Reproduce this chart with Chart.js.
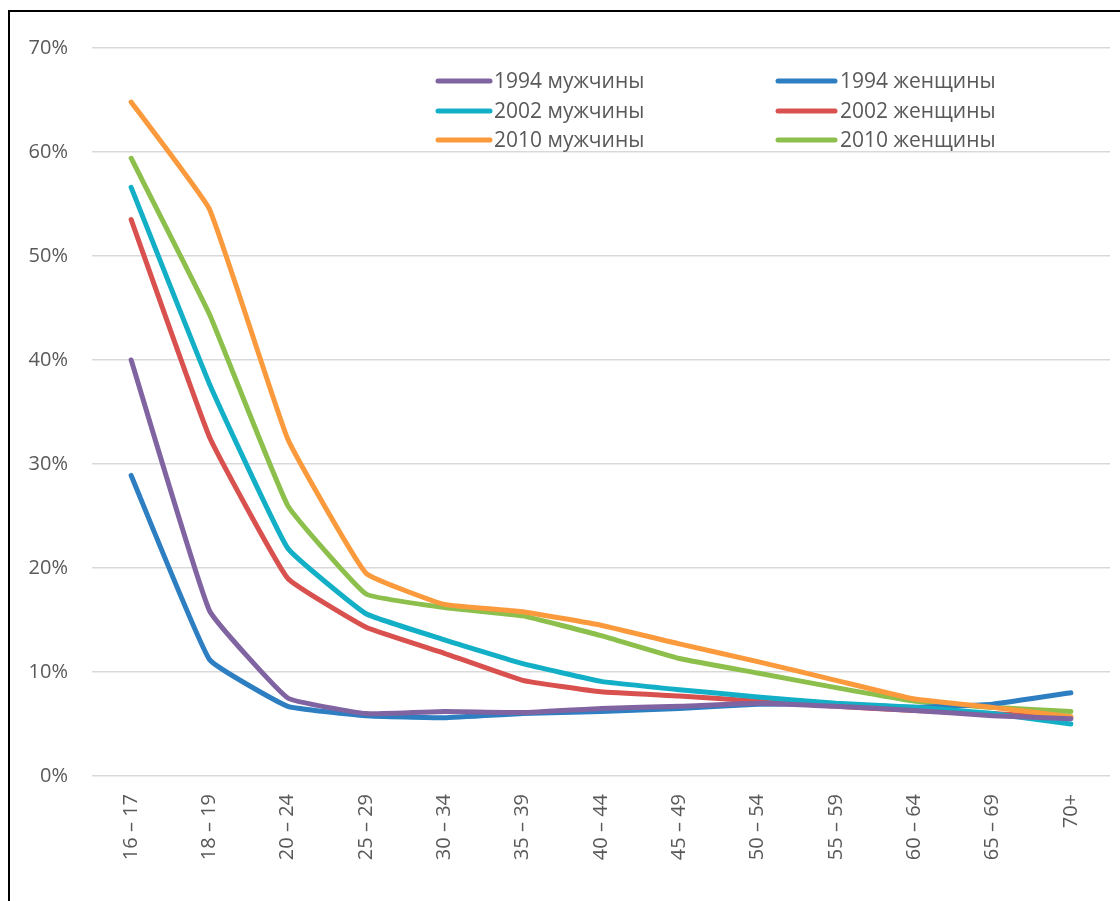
<!DOCTYPE html>
<html>
<head>
<meta charset="utf-8">
<script src="https://cdn.jsdelivr.net/npm/chart.js@4/dist/chart.umd.min.js"></script>
<style>
  html, body { margin: 0; padding: 0; background: #fff; }
  #wrap { width: 1120px; height: 901px; position: relative; }
</style>
</head>
<body>
<div id="wrap"><canvas id="chart" width="1120" height="901"></canvas></div>
<script>
// DATOS
const ageGroups = ['16 – 17', '18 – 19', '20 – 24', '25 – 29', '30 – 34', '35 – 39', '40 – 44',
  '45 – 49', '50 – 54', '55 – 59', '60 – 64', '65 – 69', '70+'];
const yTicks = [0, 10, 20, 30, 40, 50, 60, 70];

const men1994   = [40.0, 15.9, 7.5, 6.0, 6.2, 6.1, 6.5, 6.7, 7.0, 6.7, 6.3, 5.8, 5.5];
const women1994 = [28.9, 11.2, 6.7, 5.8, 5.6, 6.0, 6.2, 6.5, 6.9, 6.9, 6.6, 6.9, 8.0];
const men2002   = [56.6, 37.7, 21.9, 15.6, 13.1, 10.8, 9.1, 8.3, 7.6, 7.0, 6.6, 6.0, 5.0];
const women2002 = [53.5, 32.6, 19.0, 14.3, 11.8, 9.2, 8.1, 7.7, 7.2, 6.7, 6.3, 6.0, 5.6];
const men2010   = [64.8, 54.5, 32.4, 19.5, 16.5, 15.8, 14.5, 12.7, 11.0, 9.2, 7.4, 6.6, 5.7];
const women2010 = [59.4, 44.4, 26.0, 17.5, 16.2, 15.4, 13.5, 11.3, 9.9, 8.5, 7.2, 6.6, 6.2];

const seriesLabels = ['1994 мужчины', '2002 мужчины', '2010 мужчины',
  '1994 женщины', '2002 женщины', '2010 женщины'];
const seriesData = [men1994, men2002, men2010, women1994, women2002, women2010];
const seriesColors = ['#8064a2', '#12afc7', '#fb9a3c', '#2e7ec2', '#d9514e', '#8cbf4c'];

const FONT = '"Open Sans", "Noto Sans", sans-serif';
const TEXT = '#595959';

// MARCO Y LEYENDA
const framePlugin = {
  id: 'frame',
  afterDraw(chart) {
    const c = chart.ctx;
    c.save();
    c.strokeStyle = '#000';
    c.lineWidth = 2;
    c.beginPath();
    c.moveTo(9, 901);
    c.lineTo(9, 11);
    c.lineTo(1120, 11);
    c.stroke();
    c.restore();
  }
};

const legendPlugin = {
  id: 'gridLegend',
  afterDatasetsDraw(chart) {
    const c = chart.ctx;
    const cols = [{ x0: 438, x1: 490, tx: 494 }, { x0: 778, x1: 835, tx: 840 }];
    const rows = [81, 111, 140];
    c.save();
    c.font = '21px ' + FONT;
    c.textBaseline = 'middle';
    c.lineCap = 'round';
    chart.data.datasets.forEach((ds, i) => {
      const col = cols[Math.floor(i / 3)];
      const y = rows[i % 3];
      c.strokeStyle = ds.borderColor;
      c.lineWidth = 5;
      c.beginPath();
      c.moveTo(col.x0, y);
      c.lineTo(col.x1, y);
      c.stroke();
      c.fillStyle = TEXT;
      c.fillText(ds.label, col.tx, y + 1);
    });
    c.restore();
  }
};

const ctx = document.getElementById('chart');
new Chart(ctx, {
  type: 'line',
  data: {
    labels: ageGroups,
    datasets: seriesLabels.map((label, i) => ({
      label: label,
      data: seriesData[i],
      borderColor: seriesColors[i],
      backgroundColor: seriesColors[i],
      borderWidth: 5,
      borderCapStyle: 'round',
      borderJoinStyle: 'round',
      pointRadius: 0,
      tension: 0.1,
      fill: false
    }))
  },
  options: {
    responsive: false,
    animation: false,
    layout: { padding: { top: 48, right: 10, bottom: 0, left: 0 } },
    plugins: {
      legend: { display: false },
      tooltip: { enabled: false }
    },
    scales: {
      x: {
        offset: true,
        grid: { display: false, drawTicks: false },
        border: { display: false },
        ticks: {
          minRotation: 90,
          maxRotation: 90,
          padding: 18,
          color: TEXT,
          font: { family: FONT, size: 20 }
        },
        afterFit(scale) { scale.height = 125; }
      },
      y: {
        min: 0,
        max: 70,
        afterBuildTicks(scale) { scale.ticks = yTicks.map(v => ({ value: v })); },
        grid: { color: '#d9d9d9', lineWidth: 1.5, drawTicks: false },
        border: { display: false },
        ticks: {
          padding: 24,
          color: TEXT,
          font: { family: FONT, size: 20 },
          callback: v => v + '%'
        },
        afterFit(scale) { scale.width = 92; }
      }
    }
  },
  plugins: [framePlugin, legendPlugin]
});
</script>
</body>
</html>
